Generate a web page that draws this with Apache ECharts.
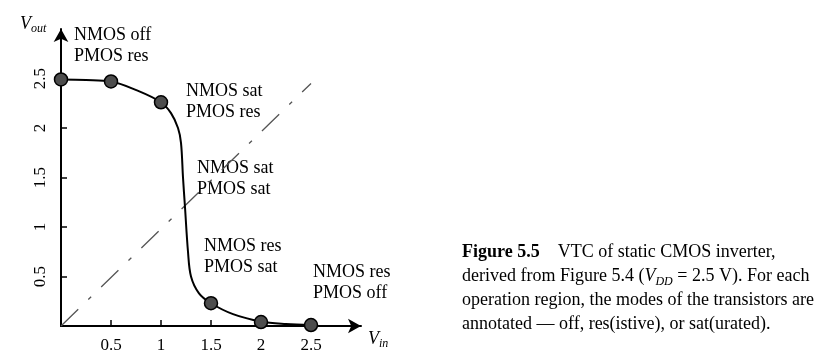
<!DOCTYPE html>
<html><head><meta charset="utf-8">
<script src="https://cdn.jsdelivr.net/npm/echarts@6/dist/echarts.min.js"></script>
<style>html,body{margin:0;padding:0;background:#fff}#c{width:833px;height:362px}</style>
</head><body><div id="c"></div>
<script>
// Data
const tickValues = [0.5, 1, 1.5, 2, 2.5];
const markerPoints = [[0, 2.49], [0.5, 2.47], [1, 2.26], [1.5, 0.23], [2, 0.04], [2.5, 0.01]];
const vtcCurve = [[0,2.49],[0.25,2.485],[0.5,2.47],[0.76,2.38],[1,2.26],[1.1,2.15],[1.17,2.0],[1.2,1.85],[1.22,1.5],[1.24,1.2],[1.27,0.75],[1.3,0.5],[1.38,0.33],[1.5,0.23],[1.72,0.12],[2,0.045],[2.25,0.02],[2.5,0.01]];
const diagonal = [[0, 0], [2.5, 2.45]];
const regionLabels = [
  ['NMOS off', 'PMOS res'],
  ['NMOS sat', 'PMOS res'],
  ['NMOS sat', 'PMOS sat'],
  ['NMOS res', 'PMOS sat'],
  ['NMOS res', 'PMOS off']
];

const FONT = '"Liberation Serif", "DejaVu Serif", serif';
const chart = echarts.init(document.getElementById('c'));
const labelPos = [[74, 25], [186, 81], [197, 158], [204, 236], [313, 262]];

function axisCommon(isY) {
  return {
    type: 'value', min: 0, max: 3, interval: 0.5,
    axisLine: { show: true, lineStyle: { color: '#000', width: 2 }, symbol: ['none', 'arrow'], symbolSize: [11, 13], symbolOffset: [0, 0] },
    axisTick: { show: true, inside: true, length: 6, lineStyle: { color: '#000', width: 1.5 }, customValues: tickValues },
    axisLabel: { show: true, customValues: tickValues, color: '#000', fontFamily: FONT, fontSize: 17, margin: isY ? 12 : 11, rotate: isY ? 90 : 0 },
    splitLine: { show: false }
  };
}

const graphics = [];
regionLabels.forEach((lines, i) => {
  graphics.push({ type: 'text', left: labelPos[i][0], top: labelPos[i][1],
    style: { text: lines.join('\n'), font: '18px ' + FONT, fill: '#000', lineHeight: 21 } });
});
graphics.push({ type: 'text', left: 20, top: 15, style: {
  text: '{v|V}{s|out}', rich: {
    v: { fontFamily: FONT, fontStyle: 'italic', fontSize: 18, fill: '#000', verticalAlign: 'top', lineHeight: 20 },
    s: { fontFamily: FONT, fontStyle: 'italic', fontSize: 12, fill: '#000', verticalAlign: 'bottom', lineHeight: 20 }
  } } });
graphics.push({ type: 'text', left: 368, top: 330, style: {
  text: '{v|V}{s|in}', rich: {
    v: { fontFamily: FONT, fontStyle: 'italic', fontSize: 18, fill: '#000', verticalAlign: 'top', lineHeight: 20 },
    s: { fontFamily: FONT, fontStyle: 'italic', fontSize: 12, fill: '#000', verticalAlign: 'bottom', lineHeight: 20 }
  } } });
graphics.push({ type: 'text', left: 462, top: 243, style: {
  text: '{b|Figure 5.5}{n|    VTC of static CMOS inverter,}\n{n|derived from Figure 5.4 (}{i|V}{s|DD}{n| = 2.5 V). For each}\n{n|operation region, the modes of the transistors are}\n{n|annotated — off, res(istive), or sat(urated).}',
  rich: {
    b: { fontFamily: FONT, fontWeight: 'bold', fontSize: 18, fill: '#000', lineHeight: 24 },
    n: { fontFamily: FONT, fontSize: 18, fill: '#000', lineHeight: 24 },
    i: { fontFamily: FONT, fontStyle: 'italic', fontSize: 18, fill: '#000', lineHeight: 24 },
    s: { fontFamily: FONT, fontStyle: 'italic', fontSize: 12, fill: '#000', lineHeight: 24, verticalAlign: 'bottom' }
  } } });

chart.setOption({
  animation: false,
  grid: { left: 61, top: 29, right: 472, bottom: 36, containLabel: false },
  xAxis: axisCommon(false),
  yAxis: axisCommon(true),
  graphic: graphics,
  series: [
    { type: 'line', data: diagonal, showSymbol: false, silent: true,
      lineStyle: { color: '#555', width: 1.3, type: [24, 14, 4, 14] } },
    { type: 'line', data: vtcCurve, smooth: 0.35, showSymbol: false, silent: true,
      lineStyle: { color: '#000', width: 2 } },
    { type: 'scatter', data: markerPoints, symbolSize: 13, z: 5,
      itemStyle: { color: '#4d4d4d', borderColor: '#000', borderWidth: 1.5, opacity: 1 } }
  ]
});
</script></body></html>
